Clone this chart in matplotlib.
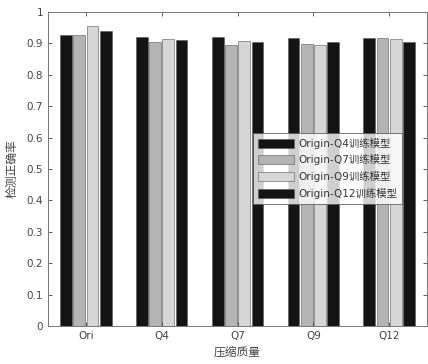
import numpy as np
import matplotlib
matplotlib.use("Agg")
import matplotlib.pyplot as plt

plt.rcParams['font.family'] = ['DejaVu Sans', 'Noto Sans CJK SC']

categories = ['Ori', 'Q4', 'Q7', 'Q9', 'Q12']
series_names = ['Origin-Q4训练模型', 'Origin-Q7训练模型', 'Origin-Q9训练模型', 'Origin-Q12训练模型']
q4_model = [0.926, 0.921, 0.919, 0.916, 0.917]
q7_model = [0.927, 0.904, 0.896, 0.898, 0.917]
q9_model = [0.956, 0.913, 0.907, 0.896, 0.913]
q12_model = [0.940, 0.912, 0.906, 0.904, 0.904]
yticks = [0, 0.1, 0.2, 0.3, 0.4, 0.5, 0.6, 0.7, 0.8, 0.9, 1]
ytick_labels = ['0', '0.1', '0.2', '0.3', '0.4', '0.5', '0.6', '0.7', '0.8', '0.9', '1']

series = [q4_model, q7_model, q9_model, q12_model]
colors = ['#141414', '#b4b4b4', '#d6d6d6', '#141414']

fig = plt.figure(figsize=(4.28, 3.64), dpi=100)
ax = fig.add_axes([0.112, 0.104, 0.886, 0.863])

x = np.arange(1, len(categories) + 1)
slot = 0.175
for i, (vals, c) in enumerate(zip(series, colors)):
    ax.bar(x + (i - 1.5) * slot, vals, width=0.155, color=c,
           edgecolor='#555555', linewidth=0.4, label=series_names[i])

ax.set_xlim(0.5, 5.5)
ax.set_ylim(0, 1)
ax.set_xticks(x)
ax.set_xticklabels(categories)
ax.set_yticks(yticks)
ax.set_yticklabels(ytick_labels)
ax.tick_params(direction='in', length=3, labelsize=7.5, colors='#444444',
               top=True, right=True, width=0.6)
for s in ax.spines.values():
    s.set_color('#777777')
    s.set_linewidth(0.7)

ax.set_xlabel('压缩质量', family=['Noto Sans CJK SC'], fontsize=8.5, color='#444444', labelpad=4)
ax.set_ylabel('检测正确率', family=['Noto Sans CJK SC'], fontsize=8.5, color='#444444', labelpad=6)

leg = ax.legend(loc='upper left', bbox_to_anchor=(0.541, 0.615),
                prop={'family': ['DejaVu Sans', 'Noto Sans CJK SC'], 'size': 7.5},
                frameon=True, fancybox=False, edgecolor='#555555',
                handlelength=3.5, handleheight=0.95, borderpad=0.45,
                labelspacing=0.55, handletextpad=0.4, borderaxespad=0)
leg.get_frame().set_linewidth(0.7)
for t in leg.get_texts():
    t.set_color('#333333')

fig.savefig('out.png', dpi=100)
